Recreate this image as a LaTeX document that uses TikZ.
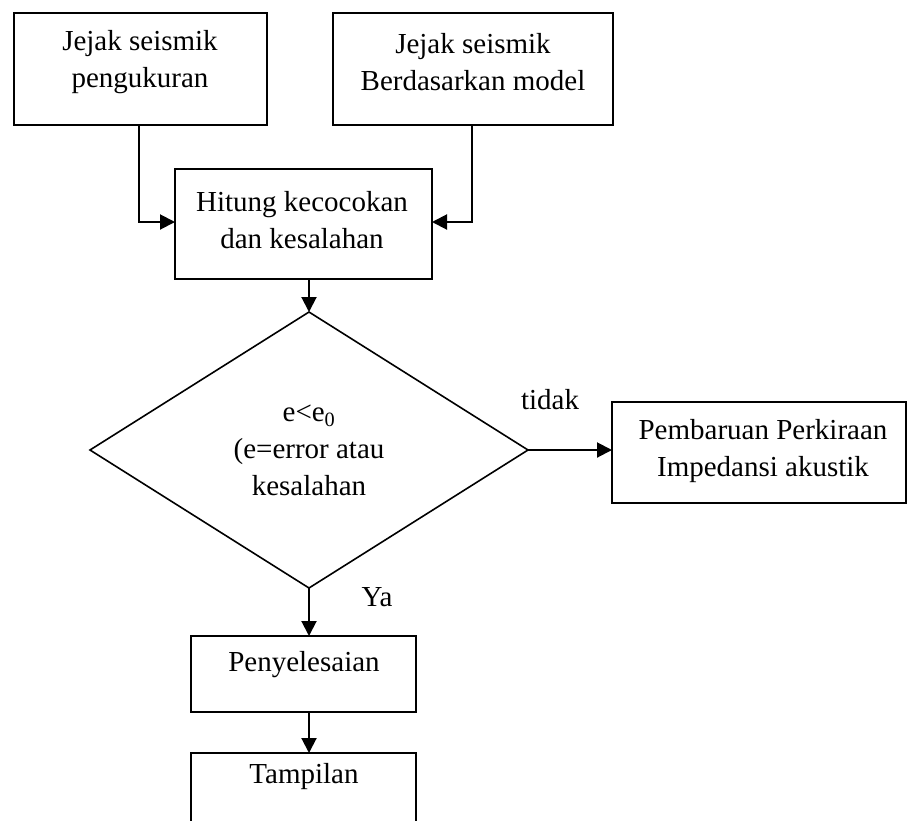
\documentclass[tikz,border=0pt]{standalone}
\usepackage{fontspec}
\setmainfont{Liberation Serif}
\usetikzlibrary{arrows.meta,shapes.geometric}
\begin{document}
\begin{tikzpicture}[x=1pt,y=1pt,
  box/.style={draw, line width=2pt, rectangle, inner sep=0pt, outer sep=0pt, anchor=north west},
  lbl/.style={font=\fontsize{29}{37}\selectfont, align=center, inner sep=0pt},
  arr/.style={line width=2pt, -{Triangle[length=15pt,width=15pt]}}]
\useasboundingbox (0,0) rectangle (908,-820);
\clip (0,0) rectangle (908,-820);
% boxes
\node[box, minimum width=253pt, minimum height=112pt] (b1) at (14,-13) {};
\node[lbl] (t1) at (140,-62) {Jejak seismik\\pengukuran};
\node[box, minimum width=280pt, minimum height=112pt] (b2) at (333,-13) {};
\node[lbl] (t2) at (473,-62) {Jejak seismik\\Berdasarkan model};
\node[box, minimum width=257pt, minimum height=110pt] (b3) at (175,-169) {};
\node[lbl] (t3) at (302,-220) {Hitung kecocokan\\dan kesalahan};
\node[draw, diamond, line width=1.6pt, minimum width=438pt, minimum height=276pt,
      inner sep=0pt, outer sep=0pt, font=\fontsize{29}{37}\selectfont, align=center]
      (d) at (309,-450) {e<e\textsubscript{0}\\(e=error atau\\kesalahan};
\node[box, minimum width=294pt, minimum height=101pt] (b4) at (612,-402) {};
\node[lbl] (t4) at (763,-451) {Pembaruan Perkiraan\\Impedansi akustik};
\node[box, minimum width=225pt, minimum height=76pt] (b5) at (191,-636) {};
\node[lbl] (t5) at (304,-665) {Penyelesaian};
\node[box, minimum width=225pt, minimum height=100pt] (b6) at (191,-753) {};
\node[lbl] (t6) at (304,-777) {Tampilan};
% labels
\node[lbl] (tidak) at (550,-400) {tidak};
\node[lbl] (ya) at (377,-597) {Ya};
% connectors
\draw[arr] ([xshift=-1.5pt]b1.south) |- ([yshift=2pt]b3.west);
\draw[arr] ([xshift=-1pt]b2.south) |- ([yshift=2pt]b3.east);
\draw[arr] (b3.south -| d.north) -- (d.north);
\draw[arr] (d.east) -- (d.east -| b4.west);
\draw[arr] (d.south) -- (d.south |- b5.north);
\draw[arr] (b5.south -| d.south) -- (b6.north -| d.south);
\end{tikzpicture}
\end{document}
